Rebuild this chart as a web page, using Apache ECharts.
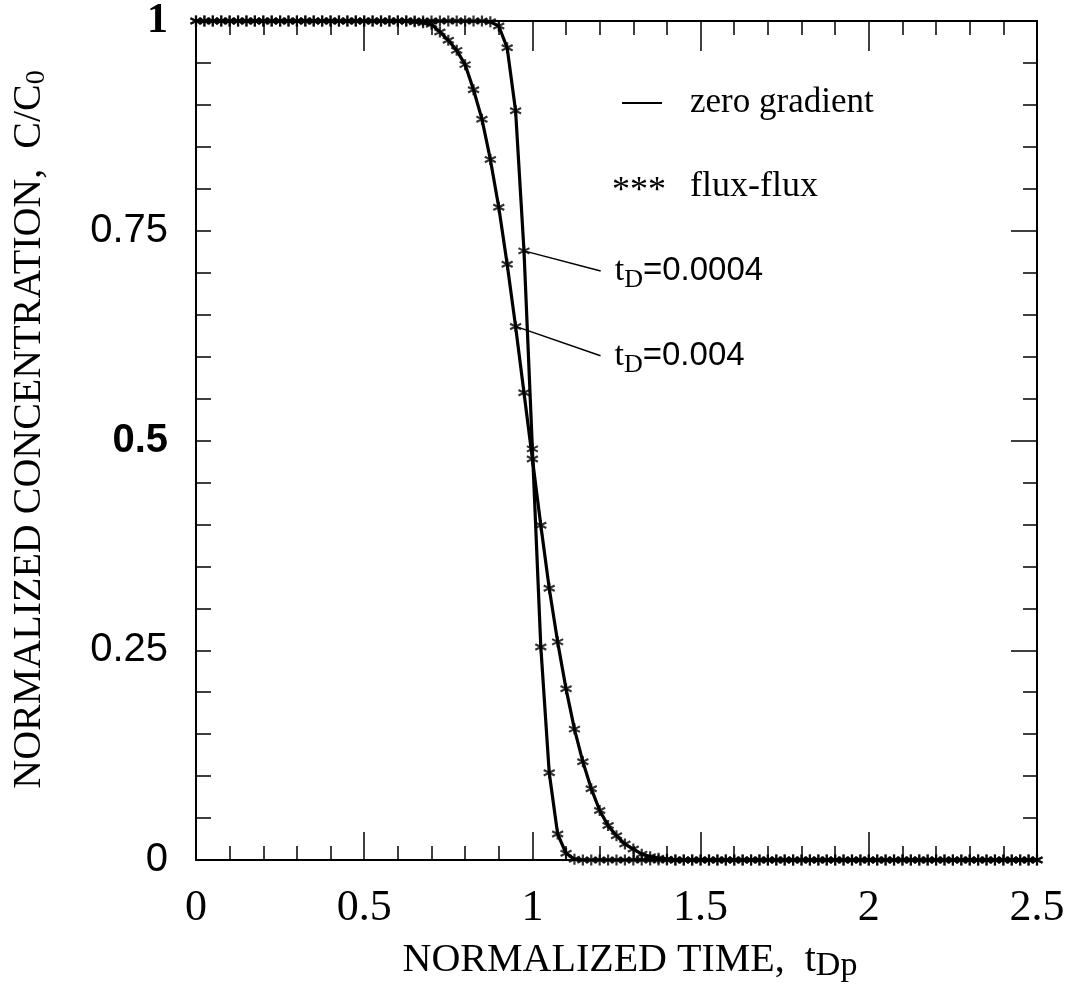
<!DOCTYPE html>
<html>
<head>
<meta charset="utf-8">
<script src="https://cdn.jsdelivr.net/npm/echarts@6/dist/echarts.min.js"></script>
<style>
html,body{margin:0;padding:0;background:#fff;}
#chart{width:1071px;height:994px;}
</style>
</head>
<body>
<div id="chart"></div>
<script>
// ---- data ----
const tDp = [
  0,0.025,0.05,0.075,0.1,0.125,0.15,0.175,0.2,0.225,
  0.25,0.275,0.3,0.325,0.35,0.375,0.4,0.425,0.45,0.475,
  0.5,0.525,0.55,0.575,0.6,0.625,0.65,0.675,0.7,0.725,
  0.75,0.775,0.8,0.825,0.85,0.875,0.9,0.925,0.95,0.975,
  1,1.025,1.05,1.075,1.1,1.125,1.15,1.175,1.2,1.225,
  1.25,1.275,1.3,1.325,1.35,1.375,1.4,1.425,1.45,1.475,
  1.5,1.525,1.55,1.575,1.6,1.625,1.65,1.675,1.7,1.725,
  1.75,1.775,1.8,1.825,1.85,1.875,1.9,1.925,1.95,1.975,
  2,2.025,2.05,2.075,2.1,2.125,2.15,2.175,2.2,2.225,
  2.25,2.275,2.3,2.325,2.35,2.375,2.4,2.425,2.45,2.475,
  2.5
];
// t_D = 0.0004 (sharp front)
const conc0004 = [
  1,1,1,1,1,1,1,1,1,1,
  1,1,1,1,1,1,1,1,1,1,
  1,1,1,1,1,1,1,1,1,1,
  1,1,1,1,1,0.999,0.994,0.968,0.893,0.726,
  0.49,0.254,0.104,0.031,0.008,0.001,0,0,0,0,
  0,0,0,0,0,0,0,0,0,0,
  0,0,0,0,0,0,0,0,0,0,
  0,0,0,0,0,0,0,0,0,0,
  0,0,0,0,0,0,0,0,0,0,
  0,0,0,0,0,0,0,0,0,0,
  0
];
// t_D = 0.004 (dispersed front)
const conc004 = [
  1,1,1,1,1,1,1,1,1,1,
  1,1,1,1,1,1,1,1,1,1,
  1,1,1,1,1,1,0.999,0.998,0.996,0.987,
  0.977,0.965,0.948,0.918,0.883,0.835,0.778,0.71,0.636,0.557,
  0.478,0.399,0.324,0.26,0.204,0.156,0.117,0.085,0.059,0.041,
  0.029,0.019,0.013,0.007,0.004,0.002,0.001,0,0,0,
  0,0,0,0,0,0,0,0,0,0,
  0,0,0,0,0,0,0,0,0,0,
  0,0,0,0,0,0,0,0,0,0,
  0,0,0,0,0,0,0,0,0,0,
  0
];
const xTickLabels = ['0','0.5','1','1.5','2','2.5'];
const yTickLabels = ['0','0.25','0.5','0.75','1'];
const legendLabels = ['zero gradient', 'flux-flux'];
// leader lines: [start point on curve, end point], label value
const leaderLabels = ['0.0004', '0.004'];
const leaderPoints = [
  [[0.975, 0.726], [1.203, 0.702]],
  [[0.95, 0.636], [1.2025, 0.601]]
];

// ---- chart ----
const SERIF = 'Liberation Serif';
const SANS = 'Liberation Sans';
const BLACK = '#000';
const asterisk = 'path://M0,-1L0,1M-0.87,-0.5L0.87,0.5M-0.87,0.5L0.87,-0.5';

function pairs(ys){ return tDp.map((x,i)=>[x, ys[i]]); }
const axisLineStyle = () => ({color:BLACK, width:2});
const tickStyle = () => ({color:BLACK, width:1.5});

const curveLine = (ys) => ({
  type:'line', data:pairs(ys), showSymbol:false, symbol:'none', z:3,
  lineStyle:{color:BLACK, width:3.2}, silent:true
});
const curveMarks = (ys) => ({
  type:'scatter', data:pairs(ys), symbol:asterisk, symbolSize:11, z:4,
  itemStyle:{color:'transparent', borderColor:BLACK, borderWidth:2.2}, silent:true
});

const leaderSeries = leaderPoints.map((pts, k) => ({
  type:'line', z:2, silent:true,
  symbol:'circle', symbolSize:0.01, showSymbol:true,
  lineStyle:{color:BLACK, width:1.5},
  itemStyle:{color:BLACK},
  data:[
    {value:pts[0]},
    {value:pts[1], label:{
      show:true, position:'right', distance:14,
      formatter:'{t|t}{s|D}{v|=' + leaderLabels[k] + '}',
      rich:{
        t:{fontFamily:SERIF, fontSize:34, color:BLACK},
        s:{fontFamily:SERIF, fontSize:26, color:BLACK, padding:[18,0,0,0]},
        v:{fontFamily:SANS, fontSize:33, color:BLACK}
      }
    }}
  ]
}));

const chart = echarts.init(document.getElementById('chart'), null, {renderer:'canvas'});
chart.setOption({
  animation:false,
  backgroundColor:'#fff',
  grid:[
    {left:196, right:34, top:21, bottom:134},
    // thin strip whose bottom edge is the top frame: its bottom axis carries the top ticks
    {left:196, right:34, top:1, height:20}
  ],
  xAxis:[
    {
      type:'value', gridIndex:0, min:0, max:2.5, interval:0.5, position:'bottom',
      axisLine:{onZero:false, lineStyle:axisLineStyle()},
      axisTick:{show:true, inside:true, length:28, lineStyle:tickStyle()},
      minorTick:{show:true, splitNumber:5, length:14, lineStyle:tickStyle()},
      splitLine:{show:false}, minorSplitLine:{show:false},
      axisLabel:{
        margin:26, fontFamily:SERIF, fontSize:44, color:BLACK,
        formatter:(v)=>xTickLabels[Math.round(v/0.5)]
      },
      name:'{m|NORMALIZED TIME,  t}{s|Dp}',
      nameLocation:'middle', nameGap:77,
      nameTextStyle:{
        padding:[0,0,0,27],
        rich:{
          m:{fontFamily:SERIF, fontSize:40, color:BLACK},
          s:{fontFamily:SERIF, fontSize:34, color:BLACK, padding:[12,0,0,0]}
        }
      }
    },
    {
      type:'value', gridIndex:0, min:0, max:2.5, interval:0.5, position:'top',
      axisLine:{show:true, onZero:false, lineStyle:axisLineStyle()},
      axisTick:{show:true, inside:true, length:30, lineStyle:tickStyle()},
      minorTick:{show:true, splitNumber:5, length:14, lineStyle:tickStyle()},
      splitLine:{show:false}, axisLabel:{show:false}
    },
    {
      type:'value', gridIndex:1, min:0, max:2.5, interval:0.5, position:'bottom',
      axisLine:{show:true, onZero:false, lineStyle:axisLineStyle()},
      axisTick:{show:true, inside:false, length:30, lineStyle:tickStyle()},
      minorTick:{show:true, splitNumber:5, length:14, lineStyle:tickStyle()},
      splitLine:{show:false}, minorSplitLine:{show:false},
      axisLabel:{show:false}
    }
  ],
  yAxis:[
    {
      type:'value', gridIndex:0, min:0, max:1, interval:0.25, position:'left',
      axisLine:{onZero:false, lineStyle:axisLineStyle()},
      axisTick:{show:true, inside:true, length:15, lineStyle:tickStyle()},
      minorTick:{show:true, splitNumber:5, length:15, lineStyle:tickStyle()},
      splitLine:{show:false}, minorSplitLine:{show:false},
      axisLabel:{
        margin:28,
        formatter:(v)=>{
          const s = yTickLabels[Math.round(v/0.25)];
          if (s === '1') return '{b|' + s + '}';
          if (s === '0.5') return '{bs|' + s + '}';
          return '{r|' + s + '}';
        },
        rich:{
          b:{fontFamily:SERIF, fontWeight:'bold', fontSize:42, color:BLACK},
          bs:{fontFamily:SANS, fontWeight:'bold', fontSize:40, color:BLACK},
          r:{fontFamily:SANS, fontSize:40, color:BLACK}
        }
      },
      name:'{m|NORMALIZED CONCENTRATION,  C/C}{s|0}',
      nameLocation:'middle', nameGap:145,
      nameTextStyle:{
        padding:[0,0,0,22],
        rich:{
          m:{fontFamily:SERIF, fontSize:40, color:BLACK},
          s:{fontFamily:SERIF, fontSize:28, color:BLACK, padding:[16,0,0,0]}
        }
      }
    },
    {
      type:'value', gridIndex:0, min:0, max:1, interval:0.25, position:'right',
      axisLine:{onZero:false, lineStyle:axisLineStyle()},
      axisTick:{show:true, inside:true, length:26, lineStyle:tickStyle()},
      minorTick:{show:true, splitNumber:5, length:14, lineStyle:tickStyle()},
      splitLine:{show:false}, axisLabel:{show:false}
    },
    {
      type:'value', gridIndex:1, min:0, max:1, show:false
    }
  ],
  graphic:[
    {type:'line', shape:{x1:622, y1:103, x2:662, y2:103}, style:{stroke:BLACK, lineWidth:2}},
    {type:'text', x:690, y:103, style:{text:legendLabels[0], font:'35px "Liberation Serif"', fill:BLACK, align:'left', verticalAlign:'middle'}},
    {type:'text', x:612, y:192, style:{text:'***', font:'36px "Liberation Serif"', fill:BLACK, align:'left', verticalAlign:'middle'}},
    {type:'text', x:690, y:187, style:{text:legendLabels[1], font:'36px "Liberation Serif"', fill:BLACK, align:'left', verticalAlign:'middle'}}
  ],
  series:[
    curveLine(conc0004),
    curveLine(conc004),
    curveMarks(conc0004),
    curveMarks(conc004),
    ...leaderSeries
  ]
});
</script>
</body>
</html>
